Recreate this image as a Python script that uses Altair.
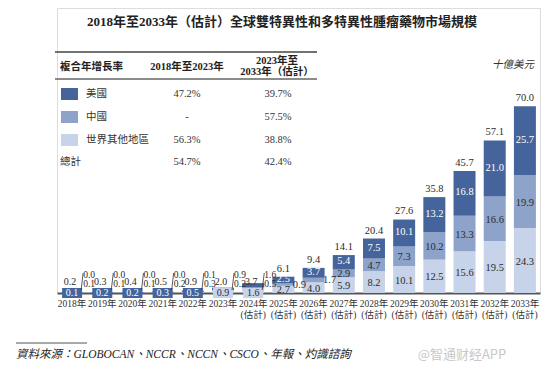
import altair as alt
import pandas as pd

years = [str(y) for y in range(2018, 2034)]
us = [0.1, 0.2, 0.2, 0.3, 0.5, 0.9, 1.6, 2.5, 3.7, 5.4, 7.5, 10.1, 13.2, 16.8, 21.0, 25.7]
china = [0.0, 0.0, 0.0, 0.0, 0.1, 0.2, 0.5, 0.9, 1.7, 2.9, 4.7, 7.3, 10.2, 13.3, 16.6, 19.9]
rest = [0.1, 0.1, 0.1, 0.2, 0.3, 0.9, 1.6, 2.7, 4.0, 5.9, 8.2, 10.1, 12.5, 15.6, 19.5, 24.3]
totals = [0.2, 0.3, 0.4, 0.5, 0.9, 2.0, 3.7, 6.1, 9.4, 14.1, 20.4, 27.6, 35.8, 45.7, 57.1, 70.0]

regions = ["世界其他地區", "中國", "美國"]  # bottom -> top
colors = {"美國": "#44649B", "中國": "#8DA3CA", "世界其他地區": "#C7D3E8"}

cagr_rows = ["美國", "中國", "世界其他地區", "總計"]
cagr_1823 = ["47.2%", "-", "56.3%", "54.7%"]
cagr_2333 = ["39.7%", "57.5%", "38.8%", "42.4%"]

title = "2018年至2033年（估計）全球雙特異性和多特異性腫瘤藥物市場規模"
source = "資料來源：GLOBOCAN、NCCR、NCCN、CSCO、年報、灼識諮詢"
unit = "十億美元"

SERIF = "Liberation Serif, Noto Sans CJK TC"
DARK = "#2b2b2b"

# ---------- build tables ----------
rows = []
for i, y in enumerate(years):
    vals = {"世界其他地區": rest[i], "中國": china[i], "美國": us[i]}
    bottom = 0.0
    for k, r in enumerate(regions):
        v = vals[r]
        rows.append({"year": y, "region": r, "value": v, "order": k,
                     "y0": bottom, "y1": bottom + v, "mid": bottom + v / 2,
                     "color": colors[r], "label": f"{v:.1f}",
                     "big": int(y) >= 2025})
        bottom += v
seg = pd.DataFrame(rows)

tot = pd.DataFrame({"year": years, "total": totals,
                    "label": [f"{t:.1f}" for t in totals],
                    "small": [int(y) <= 2024 for y in years]})

# small-year annotations (box at baseline + two leader labels)
small = []
for i, y in enumerate(years):
    if int(y) > 2024:
        continue
    if int(y) <= 2022:
        box, bc, tc, up, lo = us[i], colors["美國"], "white", china[i], rest[i]
    else:
        box, bc, tc, up, lo = rest[i], colors["世界其他地區"], DARK, us[i], china[i]
    small.append({"year": y, "box": f"{box:.1f}", "bc": bc, "tc": tc,
                  "up": f"{up:.1f}", "lo": f"{lo:.1f}", "zero": 0})
sm = pd.DataFrame(small)

W, H = 483, 285
YMAX = 285 / 2.671

xenc = alt.X("year:N", sort=years,
             scale=alt.Scale(paddingInner=0.27, paddingOuter=0.135),
             axis=alt.Axis(title=None, labelAngle=0, ticks=False,
                           labelFont=SERIF, labelFontSize=9.5, labelColor="#333",
                           labelPadding=5, labelLineHeight=11,
                           domainColor="#555", domainWidth=2,
                           labelExpr="toNumber(datum.value) >= 2024 ? [datum.value + '年', '(估計)'] : datum.value + '年'"))
yscale = alt.Scale(domain=[0, YMAX], nice=False, zero=True)

bars = alt.Chart(seg).mark_bar(width=22).encode(
    x=xenc,
    y=alt.Y("y0:Q", scale=yscale, axis=None),
    y2="y1:Q",
    color=alt.Color("color:N", scale=None),
)

inside_us = alt.Chart(seg).transform_filter(
    "datum.big && datum.region == '美國'"
).mark_text(font=SERIF, fontSize=10.5, baseline="middle", dy=-1, color="white").encode(
    x=alt.X("year:N", sort=years),
    y=alt.Y("mid:Q", scale=yscale),
    text="label:N",
)
inside_other = alt.Chart(seg).transform_filter(
    "datum.big && datum.region != '美國' && !(datum.region == '中國' && toNumber(datum.year) <= 2026)"
).mark_text(font=SERIF, fontSize=10.5, baseline="middle", dy=1, color=DARK).encode(
    x=alt.X("year:N", sort=years),
    y=alt.Y("mid:Q", scale=yscale),
    text="label:N",
)

side = alt.Chart(seg).transform_filter(
    "datum.region == '中國' && toNumber(datum.year) >= 2025 && toNumber(datum.year) <= 2026"
).mark_text(font=SERIF, fontSize=10.5, baseline="middle", dx=16, color=DARK).encode(
    x=alt.X("year:N", sort=years),
    y=alt.Y("mid:Q", scale=yscale),
    text="label:N",
)

tot_big = alt.Chart(tot).transform_filter("!datum.small").mark_text(
    font=SERIF, fontSize=10.5, baseline="bottom", dy=-3, color=DARK).encode(
    x=alt.X("year:N", sort=years),
    y=alt.Y("total:Q", scale=yscale),
    text="label:N",
)
tot_small = alt.Chart(tot).transform_filter("datum.small").mark_text(
    font=SERIF, fontSize=10, baseline="middle", dy=-11, dx=-2, color=DARK).encode(
    x=alt.X("year:N", sort=years),
    y=alt.Y("zero:Q", scale=yscale),
    text="label:N",
).transform_calculate(zero="0")

boxes = alt.Chart(sm).mark_bar(width=20, yOffset=-5, y2Offset=5).encode(
    x=alt.X("year:N", sort=years),
    y=alt.Y("zero:Q", scale=yscale),
    y2=alt.Y2("zero:Q"),
    color=alt.Color("bc:N", scale=None),
)
box_txt = alt.Chart(sm).mark_text(font=SERIF, fontSize=10, baseline="middle", dy=0).encode(
    x=alt.X("year:N", sort=years),
    y=alt.Y("zero:Q", scale=yscale),
    text="box:N",
    color=alt.Color("tc:N", scale=None),
)
leader = alt.Chart(sm).mark_rule(color="#333", strokeWidth=0.8, xOffset=9, x2Offset=11,
                                 yOffset=-3, y2Offset=-20).encode(
    x=alt.X("year:N", sort=years),
    x2="year:N",
    y=alt.Y("zero:Q", scale=yscale),
    y2="zero:Q",
)
up_txt = alt.Chart(sm).mark_text(font=SERIF, fontSize=9.5, baseline="middle", dx=17, dy=-18,
                                 color=DARK).encode(
    x=alt.X("year:N", sort=years),
    y=alt.Y("zero:Q", scale=yscale),
    text="up:N",
)
lo_txt = alt.Chart(sm).mark_text(font=SERIF, fontSize=9.5, baseline="middle", dx=17, dy=-9,
                                 color=DARK).encode(
    x=alt.X("year:N", sort=years),
    y=alt.Y("zero:Q", scale=yscale),
    text="lo:N",
)

# ---------- page furniture (pixel positions, plot coords = ref - (57, 8)) ----------
dummy = pd.DataFrame({"a": [0]})


def txt(t, x, y, **kw):
    return alt.Chart(dummy).mark_text(text=t, baseline="middle", **kw).encode(
        x=alt.value(x), y=alt.value(y))


def hline(x1, x2, y, color="#444", w=1.5):
    return alt.Chart(dummy).mark_rule(color=color, strokeWidth=w).encode(
        x=alt.value(x1), x2=alt.value(x2), y=alt.value(y))


OX, OY = 57, 8
furn = [
    txt(title, 282 - OX, 22 - OY, font=SERIF, fontSize=13, fontWeight="bold", color="#222"),
    hline(55 - OX, 317 - OX, 52 - OY, color="#444", w=1.5),
    hline(55 - OX, 317 - OX, 79 - OY, color="#666", w=1.5),
    txt("複合年增長率", 60 - OX, 67 - OY, align="left", font=SERIF, fontSize=10.5,
        fontWeight="bold", color="#222"),
    txt("2018年至2023年", 187 - OX, 67 - OY, font=SERIF, fontSize=10.5,
        fontWeight="bold", color="#222"),
    txt("2023年至", 277 - OX, 61 - OY, font=SERIF, fontSize=10.5, fontWeight="bold", color="#222"),
    txt("2033年（估計）", 277 - OX, 72 - OY, font=SERIF, fontSize=10.5, fontWeight="bold",
        color="#222"),
    txt(unit, 513 - OX, 65 - OY, font=SERIF, fontSize=10.5, fontStyle="italic", color="#333"),
    hline(16 - OX, 87 - OX, 343 - OY, color="#555", w=1),
    txt(source, 16 - OX, 355 - OY, align="left", font=SERIF, fontSize=11.5,
        fontStyle="italic", color="#222"),
    txt("@智通财经APP", 462 - OX, 355 - OY, font="Noto Sans CJK SC", fontSize=13,
        color="#c8c8c8"),
]
row_y = [94, 117, 140, 162]
for i, r in enumerate(cagr_rows):
    yy = row_y[i] - OY
    if r in colors:
        furn.append(alt.Chart(dummy).mark_rect(color=colors[r]).encode(
            x=alt.value(61 - OX), x2=alt.value(78 - OX),
            y=alt.value(yy - 6), y2=alt.value(yy + 6)))
        furn.append(txt(r, 86 - OX, yy, align="left", font=SERIF, fontSize=10.5, color="#333"))
    else:
        furn.append(txt(r, 60 - OX, yy, align="left", font=SERIF, fontSize=10.5, color="#333"))
    furn.append(txt(cagr_1823[i], 187 - OX, yy, font=SERIF, fontSize=10.5, color="#333"))
    furn.append(txt(cagr_2333[i], 278 - OX, yy, font=SERIF, fontSize=10.5, color="#333"))

chart = alt.layer(bars, boxes, inside_us, inside_other, side, tot_big, tot_small, box_txt,
                  leader, up_txt, lo_txt, *furn).properties(
    width=W, height=H,
    autosize=alt.AutoSizeParams(type="none"),
    padding={"left": 49, "top": 0, "right": 5, "bottom": 76},
).configure_view(stroke=None).configure(background="white")

chart.save("out.html", embed_options={"renderer": "svg", "actions": False})
